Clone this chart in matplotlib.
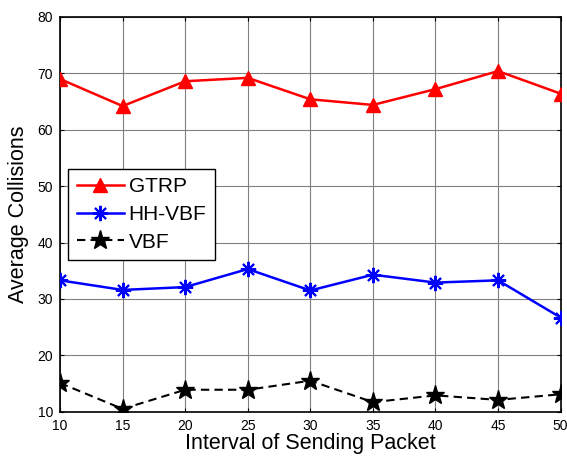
import matplotlib
matplotlib.use("Agg")
import matplotlib.pyplot as plt

plt.rcParams['font.family'] = ['Liberation Sans', 'DejaVu Sans']

intervals = [10, 15, 20, 25, 30, 35, 40, 45, 50]
gtrp = [69.0, 64.2, 68.6, 69.2, 65.4, 64.4, 67.2, 70.4, 66.4]
hh_vbf = [33.3, 31.6, 32.1, 35.3, 31.5, 34.3, 32.9, 33.3, 26.7]
vbf = [15.1, 10.5, 13.9, 13.9, 15.5, 11.7, 12.9, 12.1, 13.1]

xticks = [10, 15, 20, 25, 30, 35, 40, 45, 50]
yticks = [10, 20, 30, 40, 50, 60, 70, 80]

fig = plt.figure(figsize=(5.67, 4.58), dpi=100)
ax = fig.add_axes([0.1058, 0.101, 0.883, 0.862])

ax.plot(intervals, gtrp, color='#ff0000', lw=1.8, marker='^', ms=10,
        mec='#ff0000', mfc='#ff0000', label='GTRP', zorder=3)
ax.plot(intervals, hh_vbf, color='#0000ff', lw=1.8, marker=(8, 2, 0), ms=11,
        mec='#0000ff', mew=1.5, label='HH-VBF', zorder=3)
ax.plot(intervals, vbf, color='black', lw=1.5, ls=(0, (4, 2.5)), marker='*', ms=14,
        mec='black', mfc='black', label='VBF', zorder=3)

ax.set_xlim(10, 50)
ax.set_ylim(10, 80)
ax.set_xticks(xticks)
ax.set_yticks(yticks)
ax.grid(True, color='#808080', lw=0.8, ls='-')
ax.set_axisbelow(True)

ax.tick_params(direction='in', top=True, right=True, length=3, width=0.8,
               labelsize=10, pad=5)
for s in ax.spines.values():
    s.set_linewidth(1.2)

ax.set_xlabel('Interval of Sending Packet', fontsize=15.5, labelpad=0)
ax.set_ylabel('Average Collisions', fontsize=15.5, labelpad=6)

leg = ax.legend(loc='upper left', bbox_to_anchor=(0.0166, 0.615), fontsize=15,
                frameon=True, fancybox=False, edgecolor='black', framealpha=1,
                handlelength=2.25, handletextpad=0.25, borderpad=0.4,
                labelspacing=0.42, borderaxespad=0)
leg.get_frame().set_linewidth(1.0)

fig.savefig('out.png', dpi=100)
